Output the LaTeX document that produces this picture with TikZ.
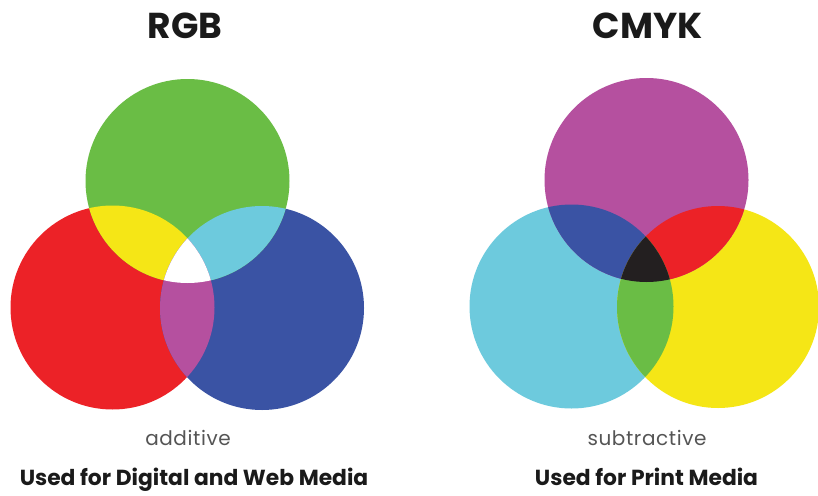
\documentclass[tikz,border=0pt]{standalone}
\usepackage{fontspec}
\setmainfont{Poppins}
\newfontfamily\spacedfont[LetterSpace=3]{Poppins}
\definecolor{cgreen}{HTML}{6ABD45}
\definecolor{cred}{HTML}{EC2227}
\definecolor{cblue}{HTML}{3A53A4}
\definecolor{cyellow}{HTML}{F5E616}
\definecolor{ccyan}{HTML}{6DCADD}
\definecolor{cmag}{HTML}{B5509F}
\definecolor{cblack}{HTML}{231F20}
\definecolor{ctitle}{HTML}{1A1A1A}
\definecolor{cgray}{HTML}{555555}
\tikzset{
  titletext/.style={anchor=base, text=ctitle, font=\fontsize{36}{40}\selectfont\bfseries, inner sep=0pt},
  subtext/.style={anchor=base, text=cgray, font=\fontsize{20}{24}\selectfont\spacedfont, inner sep=0pt},
  usetext/.style={anchor=base, text=ctitle, font=\fontsize{21.8}{24}\selectfont\bfseries, inner sep=0pt}
}
\begin{document}
\begin{tikzpicture}[x=1pt,y=-1pt]
\useasboundingbox (0,0) rectangle (818,495);
\fill[white] (0,0) rectangle (818,495);
% RGB circles
\def\Gc{(187.5,181) circle[radius=102]}
\def\Rc{(112.5,307.5) circle[radius=102]}
\def\Bc{(262,308) circle[radius=102]}
\fill[cred] \Rc;
\fill[cblue] \Bc;
\fill[cgreen] \Gc;
\begin{scope}\clip \Rc; \fill[cyellow] \Gc; \end{scope}
\begin{scope}\clip \Bc; \fill[ccyan] \Gc; \end{scope}
\begin{scope}\clip \Rc; \fill[cmag] \Bc; \end{scope}
\begin{scope}\clip \Rc; \clip \Bc; \fill[white] \Gc; \end{scope}
% CMYK circles
\def\Mc{(646.5,180) circle[radius=102]}
\def\Cc{(571.5,306.5) circle[radius=102]}
\def\Yc{(718,307) circle[radius=101]}
\fill[ccyan] \Cc;
\fill[cyellow] \Yc;
\fill[cmag] \Mc;
\begin{scope}\clip \Cc; \fill[cblue] \Mc; \end{scope}
\begin{scope}\clip \Yc; \fill[cred] \Mc; \end{scope}
\begin{scope}\clip \Cc; \fill[cgreen] \Yc; \end{scope}
\begin{scope}\clip \Cc; \clip \Yc; \fill[cblack] \Mc; \end{scope}
% texts
\node[titletext] (rgb) at (185,38) {RGB};
\node[titletext] (cmyk) at (647.5,38) {CMYK};
\node[subtext] (add) at (188,445) {additive};
\node[subtext] (sub) at (647,445) {subtractive};
\node[usetext] (usedig) at (194,485) {Used for Digital and Web Media};
\node[usetext] (useprint) at (646.5,485) {Used for Print Media};
\end{tikzpicture}
\end{document}
